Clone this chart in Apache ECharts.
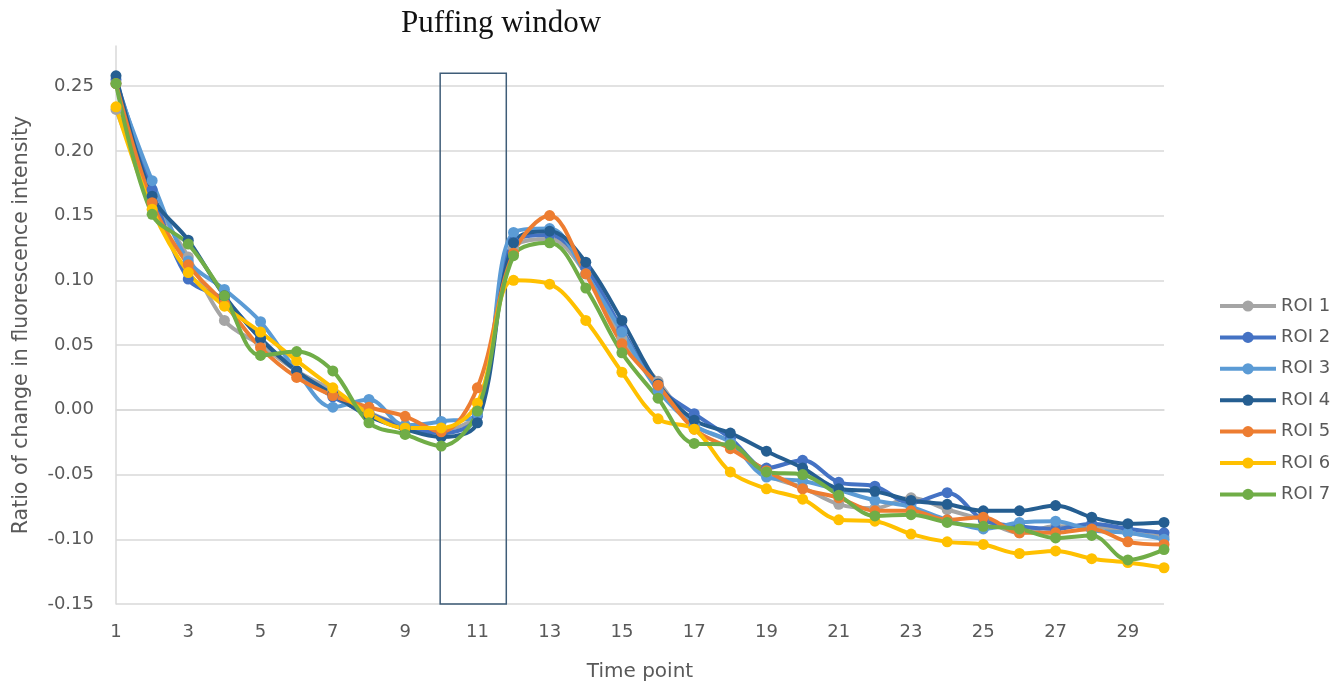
<!DOCTYPE html>
<html>
<head>
<meta charset="utf-8">
<script src="https://cdn.jsdelivr.net/npm/echarts@6/dist/echarts.min.js"></script>
<style>html,body{margin:0;padding:0;background:#fff}#c{width:1338px;height:689px}</style>
</head>
<body>
<div id="c"></div>
<script>
var timePoints = [1,2,3,4,5,6,7,8,9,10,11,12,13,14,15,16,17,18,19,20,21,22,23,24,25,26,27,28,29,30];
var roi1 = [0.232,0.165,0.118,0.069,0.050,0.030,0.015,-0.002,-0.012,-0.015,-0.002,0.125,0.132,0.105,0.055,0.022,-0.012,-0.025,-0.050,-0.060,-0.073,-0.076,-0.068,-0.077,-0.085,-0.095,-0.090,-0.090,-0.095,-0.098];
var roi2 = [0.255,0.170,0.101,0.085,0.055,0.030,0.010,-0.003,-0.013,-0.018,-0.005,0.130,0.135,0.110,0.062,0.018,-0.003,-0.022,-0.045,-0.039,-0.056,-0.059,-0.072,-0.064,-0.085,-0.090,-0.092,-0.088,-0.092,-0.095];
var roi3 = [0.252,0.177,0.115,0.093,0.068,0.030,0.002,0.008,-0.012,-0.009,-0.003,0.137,0.140,0.105,0.060,0.015,-0.012,-0.025,-0.052,-0.055,-0.062,-0.070,-0.075,-0.085,-0.092,-0.087,-0.086,-0.093,-0.095,-0.100];
var roi4 = [0.258,0.165,0.131,0.088,0.055,0.030,0.012,-0.005,-0.015,-0.021,-0.010,0.129,0.138,0.114,0.069,0.020,-0.008,-0.018,-0.032,-0.045,-0.061,-0.063,-0.070,-0.073,-0.078,-0.078,-0.074,-0.083,-0.088,-0.087];
var roi5 = [0.252,0.160,0.112,0.082,0.048,0.025,0.011,0.002,-0.005,-0.017,0.017,0.121,0.150,0.105,0.051,0.019,-0.015,-0.030,-0.047,-0.061,-0.068,-0.078,-0.078,-0.085,-0.083,-0.095,-0.095,-0.092,-0.102,-0.104];
var roi6 = [0.234,0.155,0.106,0.080,0.060,0.038,0.017,-0.003,-0.014,-0.014,0.005,0.100,0.097,0.069,0.029,-0.007,-0.015,-0.048,-0.061,-0.069,-0.085,-0.086,-0.096,-0.102,-0.104,-0.111,-0.109,-0.115,-0.118,-0.122];
var roi7 = [0.252,0.151,0.128,0.088,0.042,0.045,0.030,-0.010,-0.019,-0.028,-0.001,0.119,0.129,0.094,0.044,0.009,-0.026,-0.027,-0.048,-0.050,-0.066,-0.082,-0.081,-0.087,-0.090,-0.092,-0.099,-0.097,-0.116,-0.108];
var seriesNames = ['ROI 1','ROI 2','ROI 3','ROI 4','ROI 5','ROI 6','ROI 7'];
var seriesValues = [roi1, roi2, roi3, roi4, roi5, roi6, roi7];
var puffingWindow = [9.97, 11.8];
var puffingTop = 0.26;

var colors = ['#A5A5A5','#4472C4','#5B9BD5','#255E91','#ED7D31','#FFC000','#70AD47'];
var txt = '#595959';
var font = 'DejaVu Sans';

var chart = echarts.init(document.getElementById('c'));
var series = seriesNames.map(function (name, i) {
  var s = {
    name: name,
    type: 'line',
    smooth: 0.35,
    clip: false,
    symbol: 'circle',
    symbolSize: 11,
    lineStyle: { width: 4, color: colors[i] },
    itemStyle: { color: colors[i] },
    data: timePoints.map(function (t, k) { return [t, seriesValues[i][k]]; })
  };
  if (i === 0) {
    s.markArea = {
      silent: true,
      itemStyle: { color: 'rgba(0,0,0,0)', borderColor: '#3f5d78', borderWidth: 1.5 },
      data: [[{ xAxis: puffingWindow[0], yAxis: puffingTop }, { xAxis: puffingWindow[1], yAxis: -0.15 }]]
    };
  }
  return s;
});

chart.setOption({
  animation: false,
  color: colors,
  title: {
    text: 'Puffing window',
    left: 396, top: 3,
    textStyle: { fontFamily: 'Liberation Serif', fontSize: 31, fontWeight: 'normal', color: '#111' }
  },
  grid: { left: 116, right: 174, top: 46, bottom: 85, containLabel: false },
  legend: {
    orient: 'vertical',
    left: 1213, top: 292,
    itemWidth: 56, itemHeight: 14, itemGap: 13.4,
    lineStyle: { width: 4 },
    itemStyle: {},
    textStyle: { color: txt, fontSize: 18, fontFamily: font },
    data: seriesNames
  },
  xAxis: {
    type: 'value',
    min: 1, max: 30, interval: 2,
    name: 'Time point',
    nameLocation: 'middle',
    nameGap: 58,
    nameTextStyle: { color: txt, fontSize: 20, fontFamily: font },
    axisLine: { show: true, lineStyle: { color: '#d9d9d9', width: 1.5 } },
    axisTick: { show: false },
    splitLine: { show: false },
    axisLabel: { color: txt, fontSize: 18, fontFamily: font, margin: 19, showMaxLabel: false }
  },
  yAxis: {
    type: 'value',
    min: -0.15, max: 0.281, interval: 0.05,
    name: 'Ratio of change in fluorescence intensity',
    nameLocation: 'middle',
    nameRotate: 90,
    nameGap: 84,
    nameTextStyle: { color: txt, fontSize: 20.5, fontFamily: font },
    axisLine: { show: true, lineStyle: { color: '#d9d9d9', width: 1.5 } },
    axisTick: { show: false },
    splitLine: { show: true, showMaxLine: false, lineStyle: { color: '#d9d9d9', width: 1.5 } },
    axisLabel: {
      color: txt, fontSize: 18, fontFamily: font, margin: 22, showMaxLabel: false,
      formatter: function (v) { return v.toFixed(2); }
    }
  },
  series: series
});
</script>
</body>
</html>
